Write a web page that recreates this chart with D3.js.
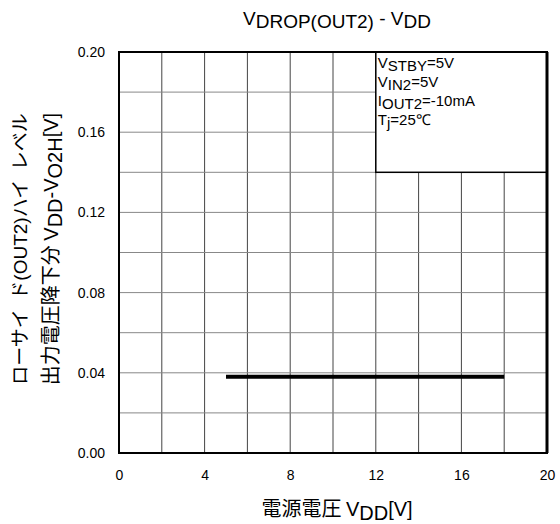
<!DOCTYPE html>
<html>
<head>
<meta charset="utf-8">
<script src="https://cdn.jsdelivr.net/npm/d3@7"></script>
<style>
  body { margin: 0; background: #fff; }
  text { font-family: "Liberation Sans", Arial, sans-serif; fill: #000; }
</style>
</head>
<body>
<div id="chart"></div>
<script>
// data
const xTicks = [0, 4, 8, 12, 16, 20];
const yTicks = [0.00, 0.04, 0.08, 0.12, 0.16, 0.20];
const vdd = [5, 18];
const vdrop = [0.038, 0.038];
const conditions = [
  ["V", "STBY", "=5V"],
  ["V", "IN2", "=5V"],
  ["I", "OUT2", "=-10mA"],
  ["T", "j", "=25\u2103"]
];

const margin = { top: 52, bottom: 71, left: 119, right: 13 };
const width = 560 - margin.left - margin.right;
const height = 524 - margin.top - margin.bottom;

const svg = d3.select("#chart").append("svg")
  .attr("width", 560)
  .attr("height", 524);

const g = svg.append("g")
  .attr("transform", `translate(${margin.left},${margin.top})`);

const x = d3.scaleLinear().domain([0, 20]).range([0, width]);
const y = d3.scaleLinear().domain([0, 0.2]).range([height, 0]);

// grid
g.selectAll(".vgrid")
  .data(d3.range(2, 20, 2))
  .enter().append("line")
  .attr("x1", d => x(d)).attr("x2", d => x(d))
  .attr("y1", 0).attr("y2", height)
  .attr("stroke", "#444").attr("stroke-width", 1);

g.selectAll(".hgrid")
  .data(d3.range(1, 10).map(i => i * 0.02))
  .enter().append("line")
  .attr("x1", 0).attr("x2", width)
  .attr("y1", d => y(d)).attr("y2", d => y(d))
  .attr("stroke", "#888").attr("stroke-width", 1);

// axes (labels only)
const xAxis = d3.axisBottom(x).tickValues(xTicks).tickSize(0).tickPadding(17).tickFormat(d3.format("d"));
const gx = g.append("g").attr("transform", `translate(0,${height})`).call(xAxis);
gx.select(".domain").remove();
gx.selectAll("text").style("font-size", "14px").style("font-family", "Liberation Sans, Arial, sans-serif");

const yAxis = d3.axisLeft(y).tickValues(yTicks).tickSize(0).tickPadding(14).tickFormat(d3.format(".2f"));
const gy = g.append("g").call(yAxis);
gy.select(".domain").remove();
gy.selectAll("text").style("font-size", "14px").style("font-family", "Liberation Sans, Arial, sans-serif");

// condition box
g.append("rect")
  .attr("x", x(12)).attr("y", y(0.2))
  .attr("width", x(20) - x(12)).attr("height", y(0.14) - y(0.2))
  .attr("fill", "#fff").attr("stroke", "#000").attr("stroke-width", 1.5);

conditions.forEach((c, i) => {
  const t = g.append("text")
    .attr("x", x(12) + 2)
    .attr("y", 16 + i * 19)
    .style("font-size", "15px");
  t.append("tspan").text(c[0]);
  t.append("tspan").attr("dy", 3).text(c[1]);
  t.append("tspan").attr("dy", -3).text(c[2]);
});

// frame
g.append("rect")
  .attr("x", 0).attr("y", 0)
  .attr("width", width).attr("height", height)
  .attr("fill", "none").attr("stroke", "#000").attr("stroke-width", 2);
g.append("line")
  .attr("x1", width).attr("x2", width).attr("y1", 0).attr("y2", height)
  .attr("stroke", "#000").attr("stroke-width", 3);

// data line
const line = d3.line().x(d => x(d[0])).y(d => y(d[1]));
g.append("path")
  .datum(vdd.map((v, i) => [v, vdrop[i]]))
  .attr("d", line)
  .attr("fill", "none").attr("stroke", "#000").attr("stroke-width", 4);

// title
const title = svg.append("text")
  .attr("x", 337)
  .attr("y", 25)
  .attr("text-anchor", "middle")
  .style("font-size", "19px");
title.append("tspan").text("V");
title.append("tspan").attr("dy", 3).text("DROP(OUT2)");
title.append("tspan").attr("dy", -3).text(" - V");
title.append("tspan").attr("dy", 3).text("DD");

// x label
const xl = svg.append("text")
  .attr("x", 337)
  .attr("y", 516)
  .attr("text-anchor", "middle")
  .style("font-size", "20px");
xl.append("tspan").style("font-family", "Noto Sans CJK JP").text("電源電圧 ");
xl.append("tspan").text("V");
xl.append("tspan").attr("dy", 4).text("DD");
xl.append("tspan").attr("dy", -4).text("[V]");

// y label, two lines
const cy = 249;
const jp = "Noto Sans CJK JP";
const yl1 = svg.append("text")
  .attr("transform", `translate(27,${cy}) rotate(-90)`)
  .attr("text-anchor", "middle")
  .style("font-size", "19px");
yl1.append("tspan").style("font-family", jp).text("ローサイ\u2002ド");
yl1.append("tspan").text("(OUT2)");
yl1.append("tspan").style("font-family", jp).text("ハイ\u2002レベル");

const yl = svg.append("text")
  .attr("transform", `translate(58,${cy}) rotate(-90)`)
  .attr("text-anchor", "middle")
  .style("font-size", "20px");
yl.append("tspan").style("font-family", jp).text("出力電圧降下分 ");
yl.append("tspan").text("V");
yl.append("tspan").attr("dy", 4).text("DD");
yl.append("tspan").attr("dy", -4).text("-V");
yl.append("tspan").attr("dy", 4).text("O2H");
yl.append("tspan").attr("dy", -4).text("[V]");
</script>
</body>
</html>
